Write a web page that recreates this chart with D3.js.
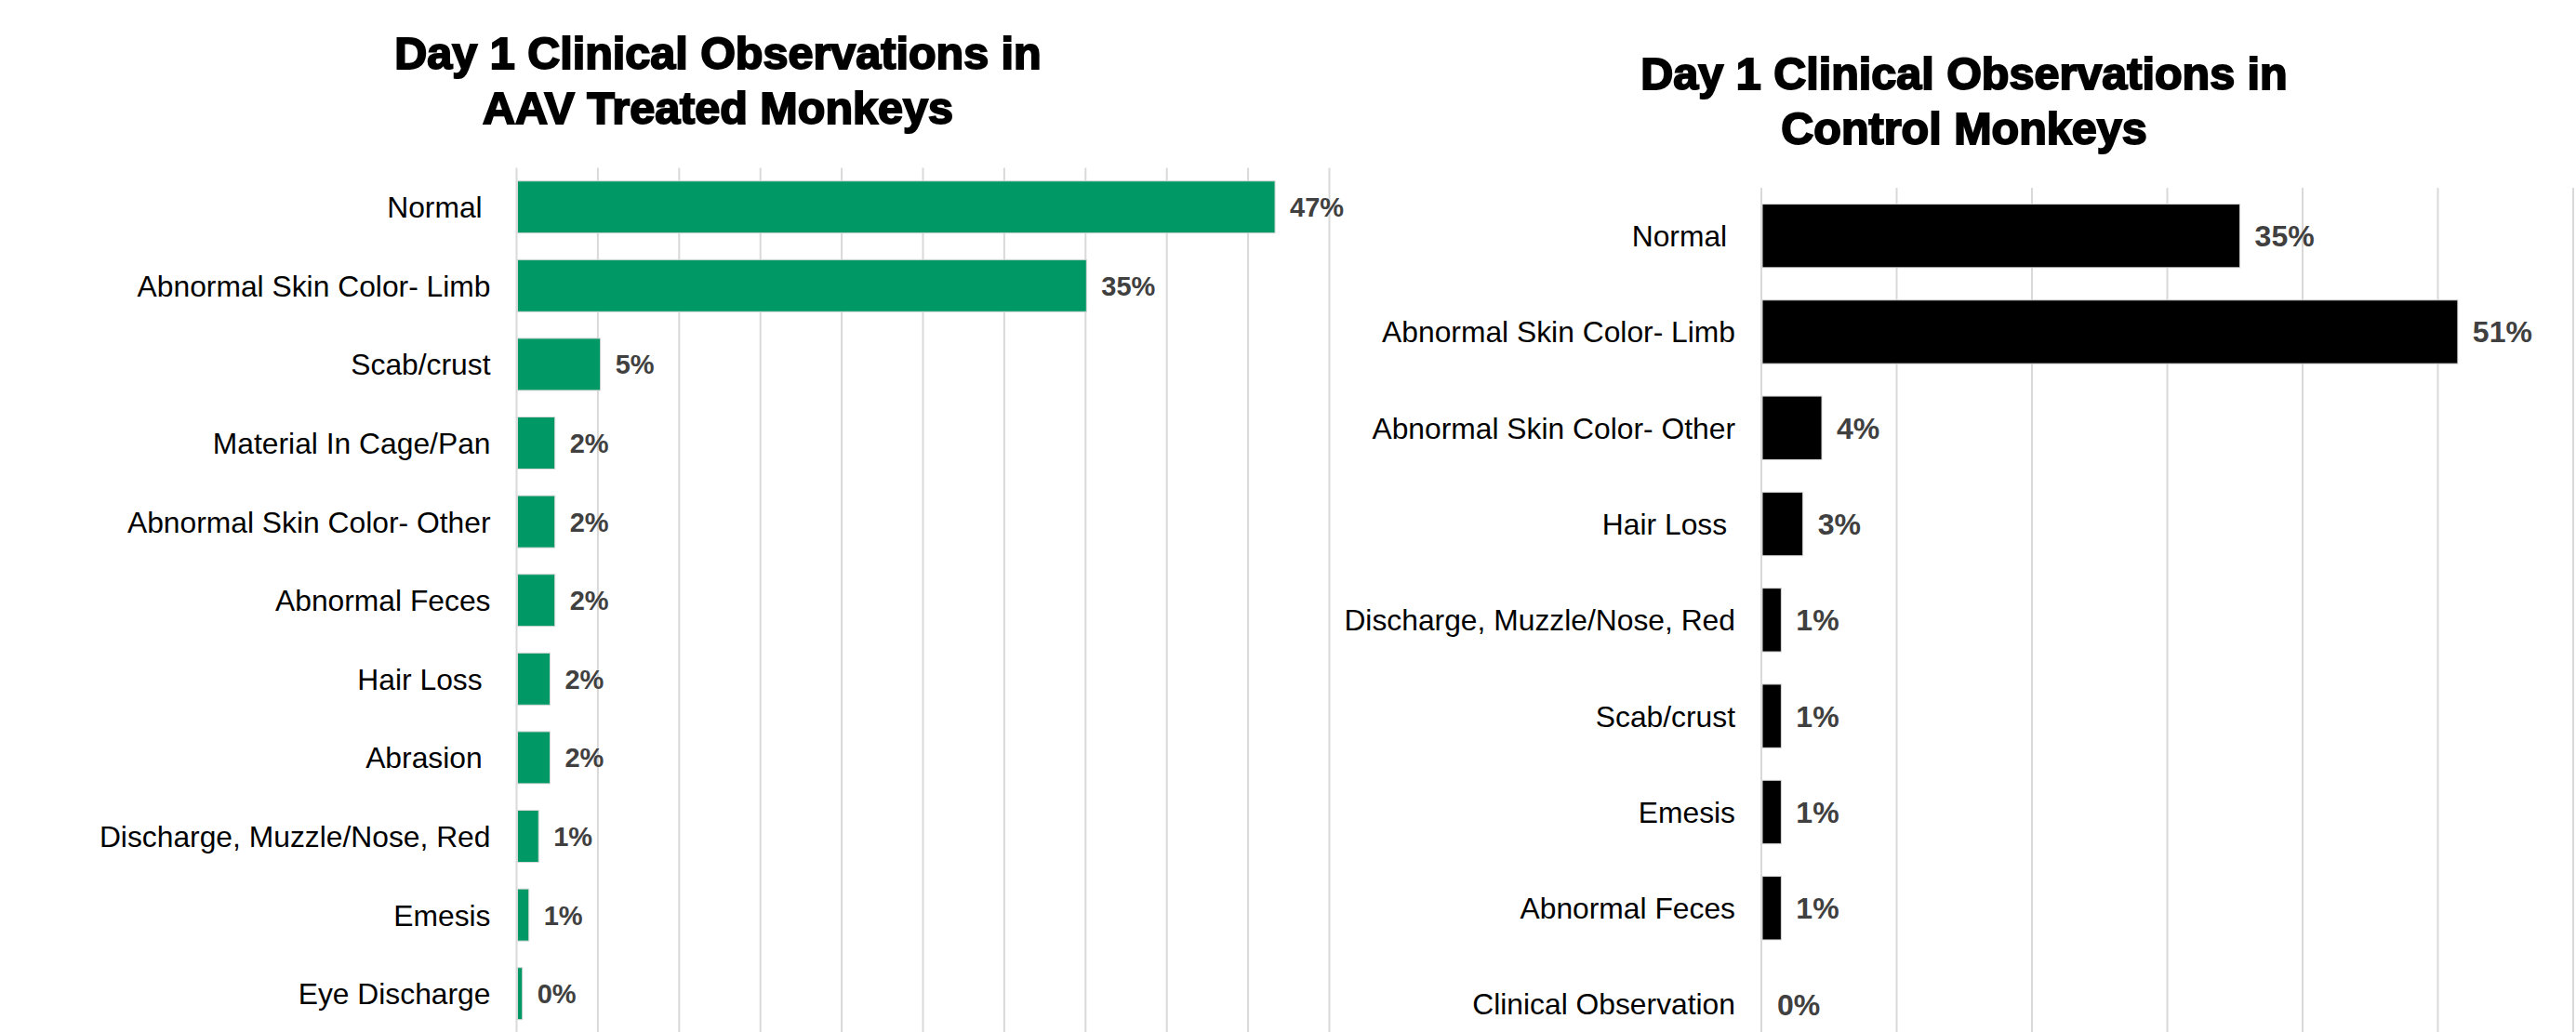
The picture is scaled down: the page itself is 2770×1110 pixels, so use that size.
<!DOCTYPE html>
<html lang="en">
<head>
<meta charset="UTF-8">
<title>Day 1 Clinical Observations</title>
<style>
  body { margin: 0; background: #fff; }
  text { font-family: "Liberation Sans", Arial, sans-serif; }
</style>
</head>
<body>
<div id="chart"></div>
<script src="https://d3js.org/d3.v7.min.js"></script>
<script>
// AAV treated monkeys
const aavCategories = ["Normal ", "Abnormal Skin Color- Limb", "Scab/crust", "Material In Cage/Pan",
  "Abnormal Skin Color- Other", "Abnormal Feces", "Hair Loss ", "Abrasion ",
  "Discharge, Muzzle/Nose, Red", "Emesis", "Eye Discharge"];
const aavValues = [46.6, 35.0, 5.1, 2.3, 2.3, 2.3, 2.0, 2.0, 1.3, 0.7, 0.3];

// Control monkeys
const ctrlCategories = ["Normal ", "Abnormal Skin Color- Limb", "Abnormal Skin Color- Other", "Hair Loss ",
  "Discharge, Muzzle/Nose, Red", "Scab/crust", "Emesis", "Abnormal Feces", "Clinical Observation"];
const ctrlValues = [35.3, 51.4, 4.4, 3.0, 1.4, 1.4, 1.4, 1.4, 0];

const aavTicks = [0, 5, 10, 15, 20, 25, 30, 35, 40, 45, 50];
const ctrlTicks = [0, 10, 20, 30, 40, 50, 60];

const W = 2770, H = 1110;
const svg = d3.select("#chart").append("svg")
  .attr("width", W).attr("height", H);

const fmt = v => Math.round(v) + "%";

function drawPanel(opts) {
  const { cats, vals, ticks, x0, x1, y0, step, color, titleLines, titleX, titleY, valueSize } = opts;
  const g = svg.append("g");
  const x = d3.scaleLinear().domain([0, d3.max(ticks)]).range([x0, x1]);
  const y = d3.scaleBand().domain(cats).range([y0, y0 + step * cats.length]).paddingInner(0.338).paddingOuter(0.169);

  // gridlines
  g.append("g").selectAll("line").data(ticks).join("line")
    .attr("x1", d => x(d)).attr("x2", d => x(d))
    .attr("y1", y0).attr("y2", H)
    .attr("stroke", "#d9d9d9").attr("stroke-width", 2);

  // bars
  g.append("g").selectAll("rect").data(vals).join("rect")
    .attr("x", x(0) + 1)
    .attr("y", (d, i) => y(cats[i]))
    .attr("width", d => Math.max(0, x(d) - x(0)))
    .attr("height", y.bandwidth())
    .attr("fill", color)
    .attr("stroke", d => d > 0 ? "#d9d9d9" : "none")
    .attr("stroke-width", 1);

  // value labels
  g.append("g").selectAll("text").data(vals).join("text")
    .attr("x", d => x(d) + 17)
    .attr("y", (d, i) => y(cats[i]) + y.bandwidth() / 2)
    .attr("dy", "0.36em")
    .attr("font-size", valueSize)
    .attr("font-weight", "bold")
    .attr("fill", "#404040")
    .text(fmt);

  // category labels
  g.append("g").selectAll("text").data(cats).join("text")
    .attr("x", x0 - 28)
    .attr("y", d => y(d) + y.bandwidth() / 2)
    .attr("dy", "0.36em")
    .attr("text-anchor", "end")
    .attr("font-size", 31.8)
    .attr("fill", "#000")
    .attr("xml:space", "preserve")
    .style("white-space", "pre")
    .text(d => d);

  // title
  g.append("g").selectAll("text").data(titleLines).join("text")
    .attr("x", titleX)
    .attr("y", (d, i) => titleY + i * 59)
    .attr("text-anchor", "middle")
    .attr("font-size", 48.5)
    .attr("font-weight", "bold")
    .attr("fill", "#000")
    .attr("stroke", "#000")
    .attr("stroke-width", 2)
    .text(d => d);
}

drawPanel({
  cats: aavCategories, vals: aavValues, ticks: aavTicks,
  x0: 555.5, x1: 1429.5, y0: 180.4, step: 84.6, color: "#009966",
  titleLines: ["Day 1 Clinical Observations in", "AAV Treated Monkeys"],
  titleX: 772, titleY: 74, valueSize: 29
});

drawPanel({
  cats: ctrlCategories, vals: ctrlValues, ticks: ctrlTicks,
  x0: 1894, x1: 2767, y0: 202, step: 103.3, color: "#000000",
  titleLines: ["Day 1 Clinical Observations in", "Control Monkeys"],
  titleX: 2112, titleY: 96, valueSize: 32
});
</script>
</body>
</html>
